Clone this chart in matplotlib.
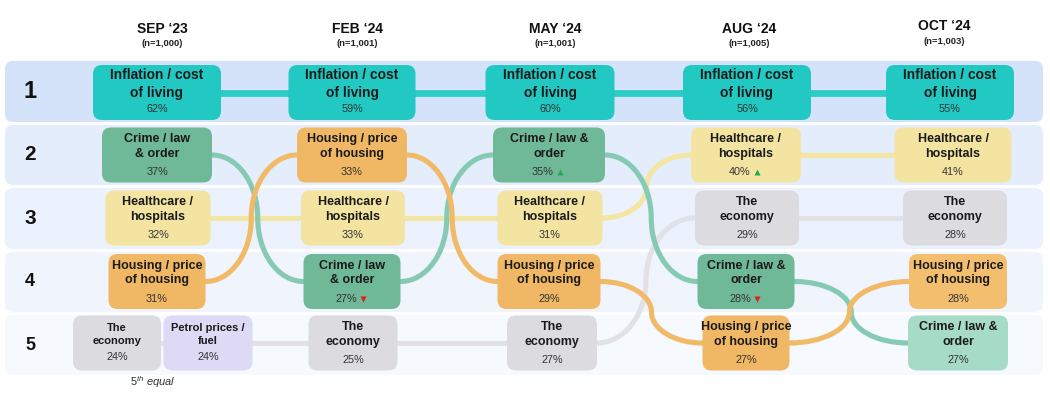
import matplotlib
matplotlib.use("Agg")
import matplotlib.pyplot as plt
from matplotlib.patches import FancyBboxPatch, PathPatch
from matplotlib.path import Path

plt.rcParams['font.family'] = ['Liberation Sans', 'DejaVu Sans']
plt.rcParams['mathtext.fontset'] = 'custom'
plt.rcParams['mathtext.rm'] = 'Liberation Sans'
plt.rcParams['mathtext.it'] = 'Liberation Sans:italic'

# ---------------- data ----------------
waves = ["SEP \u201823", "FEB \u201824", "MAY \u201824", "AUG \u201824", "OCT \u201824"]
sample_sizes = ["(n=1,000)", "(n=1,001)", "(n=1,001)", "(n=1,005)", "(n=1,003)"]
rank_labels = ["1", "2", "3", "4", "5"]

inflation_labels = ["Inflation / cost\nof living"] * 5
inflation_pct = [62, 59, 60, 56, 55]
inflation_rank = [1, 1, 1, 1, 1]
inflation_change = [0, 0, 0, 0, 0]

crime_labels = ["Crime / law\n& order", "Crime / law\n& order", "Crime / law &\norder",
                "Crime / law &\norder", "Crime / law &\norder"]
crime_pct = [37, 27, 35, 28, 27]
crime_rank = [2, 4, 2, 4, 5]
crime_change = [0, -1, 1, -1, 0]

healthcare_labels = ["Healthcare /\nhospitals"] * 5
healthcare_pct = [32, 33, 31, 40, 41]
healthcare_rank = [3, 3, 3, 2, 2]
healthcare_change = [0, 0, 0, 1, 0]

housing_labels = ["Housing / price\nof housing"] * 5
housing_pct = [31, 33, 29, 27, 28]
housing_rank = [4, 2, 4, 5, 4]
housing_change = [0, 0, 0, 0, 0]

economy_labels = ["The\neconomy"] * 5
economy_pct = [24, 25, 27, 29, 28]
economy_rank = [5, 5, 5, 3, 3]
economy_change = [0, 0, 0, 0, 0]

petrol_labels = ["Petrol prices /\nfuel", None, None, None, None]
petrol_pct = [24, None, None, None, None]
petrol_rank = [5, None, None, None, None]
petrol_change = [0, 0, 0, 0, 0]

footnote = r"$\mathit{5}^{\mathit{th}}$ equal"

# ---------------- layout / style ----------------
col_px = [157, 352, 550, 747, 951]
header_px = [162, 357, 555, 749, 944]
header_y = [29, 29, 29, 29, 26]
row_px = [92.5, 155, 218, 281.5, 343]
band_px = [(61, 122), (125, 185), (188, 249), (252, 312), (315, 375)]
band_colors = ["#d5e3fa", "#e4edfb", "#ebf2fd", "#f0f5fd", "#f6f9fe"]
rank_sizes = [17, 15, 15, 13, 13]
BOX_H = 55

series = [
    dict(labels=economy_labels, pct=economy_pct, rank=economy_rank, change=economy_change,
         widths=[88, 89, 90, 104, 104], offs=[-40, 1, 2, 0, 4],
         box=["#dcdce0"] * 5, line="#e2e2e6", lw=3.7, fs=[8, 9, 9, 9, 9]),
    dict(labels=petrol_labels, pct=petrol_pct, rank=petrol_rank, change=petrol_change,
         widths=[89, 0, 0, 0, 0], offs=[51, 0, 0, 0, 0],
         box=["#ded9f4"] * 5, line="#ded9f4", lw=3.7, fs=[8, 9, 9, 9, 9]),
    dict(labels=healthcare_labels, pct=healthcare_pct, rank=healthcare_rank, change=healthcare_change,
         widths=[105, 104, 105, 110, 117], offs=[1, 1, 0, -1, 2],
         box=["#f4e4a1"] * 5, line="#f3e5a2", lw=3.7, fs=[9] * 5),
    dict(labels=crime_labels, pct=crime_pct, rank=crime_rank, change=crime_change,
         widths=[110, 97, 112, 97, 100], offs=[0, 0, -1, -1, 7],
         box=["#6fb898", "#6fb898", "#6fb898", "#6fb898", "#a6dbc7"], line="#86cab3", lw=3.7,
         fs=[9] * 5),
    dict(labels=housing_labels, pct=housing_pct, rank=housing_rank, change=housing_change,
         widths=[97, 110, 103, 87, 98], offs=[0, 0, -1, -1, 7],
         box=["#f0b865", "#f0b865", "#f0b865", "#f0b865", "#f3bf6f"], line="#f1ba68", lw=3.7,
         fs=[9] * 5),
    dict(labels=inflation_labels, pct=inflation_pct, rank=inflation_rank, change=inflation_change,
         widths=[128, 127, 129, 128, 128], offs=[0, 0, 0, 0, -1],
         box=["#22c9c3"] * 5, line="#2ccdc7", lw=4.9, fs=[9.9] * 5),
]

fig = plt.figure(figsize=(10.5, 3.98), dpi=100)
ax = fig.add_axes([0, 0, 1, 1])
ax.set_xlim(0, 1050)
ax.set_ylim(398, 0)
ax.axis("off")

# row bands and rank numbers
for r, (top, bot) in enumerate(band_px):
    ax.add_patch(FancyBboxPatch((5, top), 1038, bot - top,
                                boxstyle="round,pad=0,rounding_size=8",
                                fc=band_colors[r], ec="none", zorder=0))
    ax.text(30, (top + bot) / 2, rank_labels[r], fontsize=rank_sizes[r], fontweight="bold",
            ha="center", va="center", color="#111111", zorder=5)

# headers
for i, w in enumerate(waves):
    ax.text(header_px[i], header_y[i], w, fontsize=10, fontweight="bold",
            ha="center", va="center", color="#111111")
    ax.text(header_px[i], header_y[i] + 15, sample_sizes[i], fontsize=6.8, fontweight="bold",
            ha="center", va="center", color="#222222")


def box_geom(s, w):
    cx = col_px[w] + s["offs"][w]
    cy = row_px[s["rank"][w] - 1]
    return cx, cy, s["widths"][w]


def connector(x0, y0, x1, y1, color, lw):
    if y0 == y1:
        verts = [(x0 - 10, y0), (x1 + 10, y1)]
        codes = [Path.MOVETO, Path.LINETO]
    else:
        c = 0.5523
        a = (x1 - x0) / 2.0
        b = (y1 - y0) / 2.0
        xm, ym = x0 + a, y0 + b
        verts = [(x0 - 10, y0), (x0, y0),
                 (x0 + c * a, y0), (xm, ym - c * b), (xm, ym),
                 (xm, ym + c * b), (x1 - c * a, y1), (x1, y1),
                 (x1 + 10, y1)]
        codes = [Path.MOVETO, Path.LINETO,
                 Path.CURVE4, Path.CURVE4, Path.CURVE4,
                 Path.CURVE4, Path.CURVE4, Path.CURVE4,
                 Path.LINETO]
    ax.add_patch(PathPatch(Path(verts, codes), fill=False, ec=color, lw=lw,
                           capstyle="butt", zorder=1))


# connectors
for s in series:
    for w in range(len(waves) - 1):
        if s["rank"][w] is None or s["rank"][w + 1] is None:
            continue
        cx0, cy0, w0 = box_geom(s, w)
        cx1, cy1, w1 = box_geom(s, w + 1)
        connector(cx0 + w0 / 2, cy0, cx1 - w1 / 2, cy1, s["line"], s["lw"])

# boxes
for s in series:
    for w in range(len(waves)):
        if s["rank"][w] is None:
            continue
        cx, cy, bw = box_geom(s, w)
        ax.add_patch(FancyBboxPatch((cx - bw / 2, cy - BOX_H / 2), bw, BOX_H,
                                    boxstyle="round,pad=0,rounding_size=9",
                                    fc=s["box"][w], ec="none", zorder=3))
        fs = s["fs"][w]
        ax.text(cx, cy - 8.5, s["labels"][w], fontsize=fs, fontweight="bold", ha="center",
                va="center", multialignment="center", linespacing=1.3, color="#1a1a1a", zorder=4)
        ptxt = f"{s['pct'][w]}%"
        py = cy + 17 if fs > 8 else cy + 14
        ch = s["change"][w]
        if ch == 0:
            ax.text(cx, py, ptxt, fontsize=7.8, ha="center", va="center", color="#333333", zorder=4)
        else:
            ax.text(cx - 6, py, ptxt, fontsize=7.8, ha="center", va="center", color="#333333", zorder=4)
            ax.plot([cx + 11], [py], marker="^" if ch > 0 else "v", ms=4.5,
                    color="#22aa55" if ch > 0 else "#e01c1c", mec="none", zorder=5)

# footnote
ax.text(153, 382, footnote, fontsize=8, style="italic", ha="center", va="center", color="#333333")

fig.savefig("out.png", dpi=100, facecolor="white")
